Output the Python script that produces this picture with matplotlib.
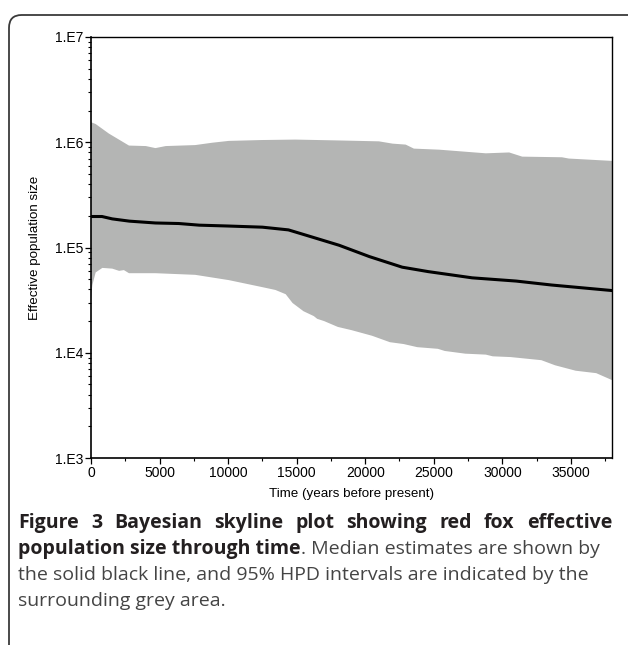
import numpy as np
import matplotlib
matplotlib.use("Agg")
import matplotlib.pyplot as plt
from matplotlib.patches import FancyBboxPatch
from matplotlib.ticker import LogLocator, FixedLocator, NullFormatter

# median of the skyline
t_med = [0, 800, 1550, 2800, 4700, 6400, 7900, 10000, 12500, 14400, 16100,
         18100, 20300, 22700, 24600, 27800, 31000, 33600, 38000]
ne_med = [1.97e5, 1.97e5, 1.87e5, 1.78e5, 1.71e5, 1.69e5, 1.63e5, 1.60e5, 1.56e5,
          1.47e5, 1.26e5, 1.05e5, 8.2e4, 6.5e4, 5.9e4, 5.15e4, 4.8e4, 4.4e4, 3.9e4]

# upper 95% HPD
t_up = [0, 340, 1300, 2770, 4000, 4700, 5450, 7600, 8850, 10050, 12500, 14900,
        18100, 21000, 22000, 22950, 23550, 25400, 28800, 30500, 31450, 34350,
        34850, 38000]
ne_up = [1.55e6, 1.49e6, 1.21e6, 9.3e5, 9.2e5, 8.8e5, 9.2e5, 9.4e5, 9.9e5, 1.03e6,
         1.05e6, 1.06e6, 1.04e6, 1.02e6, 9.7e5, 9.5e5, 8.7e5, 8.5e5, 7.85e5, 8.0e5,
         7.3e5, 7.2e5, 7.0e5, 6.65e5]

# lower 95% HPD
t_low = [0, 100, 340, 830, 1550, 2050, 2400, 2770, 4700, 7600, 10050, 12500,
         13450, 14200, 14700, 15500, 16250, 16500, 17000, 18000, 19000, 20500,
         21800, 22800, 23800, 25300, 25800, 27300, 28800, 29300, 30600, 32850,
         33850, 35350, 36850, 38000]
ne_low = [3.3e4, 4.4e4, 5.8e4, 6.4e4, 6.3e4, 6.0e4, 6.1e4, 5.7e4, 5.7e4, 5.5e4,
          4.9e4, 4.2e4, 3.95e4, 3.6e4, 2.97e4, 2.48e4, 2.23e4, 2.1e4, 2.0e4,
          1.76e4, 1.64e4, 1.45e4, 1.26e4, 1.21e4, 1.13e4, 1.09e4, 1.04e4, 9.8e3,
          9.6e3, 9.25e3, 9.1e3, 8.5e3, 7.6e3, 6.75e3, 6.4e3, 5.5e3]

x_ticks = [0, 5000, 10000, 15000, 20000, 25000, 30000, 35000]
y_ticks = [1e3, 1e4, 1e5, 1e6, 1e7]
y_labels = ["1.E3", "1.E4", "1.E5", "1.E6", "1.E7"]

W, H = 628, 645
fig = plt.figure(figsize=(W / 100, H / 100), dpi=100)
plt.rcParams['font.family'] = ['Liberation Sans', 'DejaVu Sans']

# frame round the whole figure (only top and left edges show)
border = FancyBboxPatch((9 / W, -0.2), 1.5, 1.2 - 15 / H,
                        boxstyle="round,pad=0,rounding_size=0.02",
                        transform=fig.transFigure, fill=False,
                        edgecolor="#3a3a3a", linewidth=1.3, clip_on=False)
fig.patches.append(border)

ax = fig.add_axes([91 / W, 1 - 458 / H, (612 - 91) / W, (458 - 37) / H])

poly_t = list(t_up) + list(t_low[::-1])
poly_n = list(ne_up) + list(ne_low[::-1])
ax.fill(poly_t, poly_n, color="#b4b5b4", linewidth=0)
ax.plot(t_med, ne_med, color="black", linewidth=2.2)

ax.set_yscale("log")
ax.set_xlim(0, 38000)
ax.set_ylim(1e3, 1e7)

ax.yaxis.set_major_locator(FixedLocator(y_ticks))
ax.set_yticklabels(y_labels)
ax.yaxis.set_minor_locator(LogLocator(base=10, subs=np.arange(2, 10)))
ax.yaxis.set_minor_formatter(NullFormatter())
ax.set_xticks(x_ticks)
ax.set_xticklabels([str(v) for v in x_ticks])
ax.xaxis.set_minor_locator(FixedLocator([v + 2500 for v in x_ticks]))

ax.tick_params(axis="both", which="major", direction="out", length=4, width=0.9,
               labelsize=10, colors="black", pad=1.5)
ax.tick_params(axis="both", which="minor", direction="out", length=2, width=0.8)
for s in ["left", "bottom"]:
    ax.spines[s].set_linewidth(1.2)
for s in ["top", "right"]:
    ax.spines[s].set_linewidth(1.0)

ax.set_xlabel("Time (years before present)", fontsize=9.6, labelpad=6)
ax.set_ylabel("Effective population size", fontsize=9.6, labelpad=10)

# caption
renderer = fig.canvas.get_renderer()
cap_font = "Open Sans"
x0 = 18 / W


def width_px(txt, size, weight):
    t = fig.text(0, 0, txt, fontsize=size, fontweight=weight, family=cap_font)
    w = t.get_window_extent(renderer).width
    t.remove()
    return w


line3 = "the solid black line, and 95% HPD intervals are indicated by the"
size = 12.0
size = size * 567 / width_px(line3, size, "normal")

dark = "#231f20"
grey = "#444444"

# line 1, justified
words = "Figure 3 Bayesian skyline plot showing red fox effective".split()
wws = [width_px(w_, size, "bold") for w_ in words]
gap = (594 - sum(wws)) / (len(words) - 1)
xp = 18
for w_, ww in zip(words, wws):
    fig.text(xp / W, 1 - 523 / H, w_, fontsize=size, fontweight="bold",
             family=cap_font, color=dark, va="center")
    xp += ww + gap

b2 = "population size through time"
fig.text(x0, 1 - 549 / H, b2, fontsize=size, fontweight="bold",
         family=cap_font, color=dark, va="center")
wb = width_px(b2, size, "bold")
fig.text((18 + wb) / W, 1 - 549 / H, ". Median estimates are shown by",
         fontsize=size, family=cap_font, color=grey, va="center")
fig.text(x0, 1 - 575 / H, line3, fontsize=size, family=cap_font, color=grey,
         va="center")
fig.text(x0, 1 - 601 / H, "surrounding grey area.", fontsize=size,
         family=cap_font, color=grey, va="center")

fig.savefig("out.png", dpi=100)
